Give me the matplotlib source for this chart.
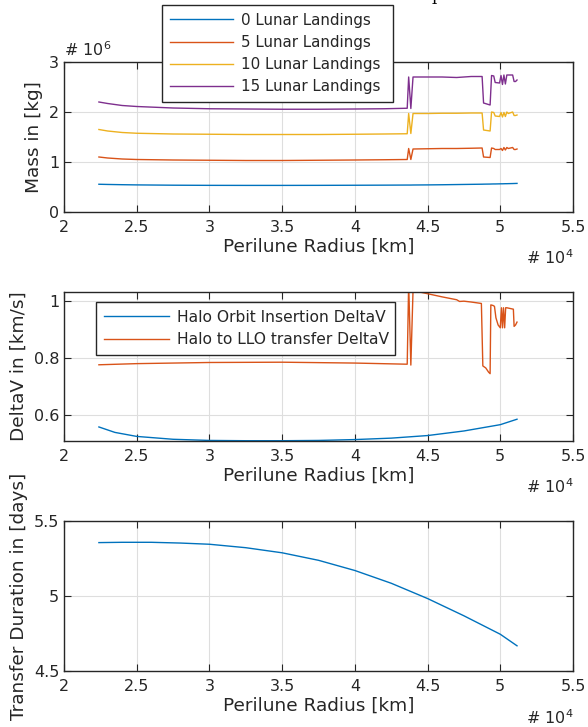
import matplotlib
matplotlib.use("Agg")
import matplotlib.pyplot as plt
from matplotlib.ticker import FuncFormatter

#%% data (x in units of 1e4 km)
x_mass = [2.24, 2.3, 2.4, 2.5, 2.75, 3.0, 3.25, 3.5, 3.75, 4.0, 4.2, 4.36, 4.37, 4.385,
          4.40, 4.5, 4.6, 4.7, 4.8, 4.875, 4.885, 4.93, 4.94, 4.955, 4.965, 4.995,
          5.005, 5.015, 5.025, 5.035, 5.045, 5.055, 5.085, 5.095, 5.105, 5.115]
mass_0 = [0.555, 0.551, 0.546, 0.542, 0.536, 0.533, 0.532, 0.532, 0.533, 0.535, 0.537, 0.539,
          0.539, 0.539, 0.540, 0.542, 0.545, 0.549, 0.553, 0.556, 0.557, 0.559, 0.560, 0.561,
          0.561, 0.563, 0.564, 0.564, 0.565, 0.566, 0.566, 0.567, 0.569, 0.570, 0.571, 0.572]
mass_5 = [1.10, 1.08, 1.06, 1.05, 1.04, 1.035, 1.03, 1.03, 1.035, 1.04, 1.045, 1.05,
          1.27, 1.05, 1.26, 1.265, 1.27, 1.27, 1.275, 1.28, 1.10, 1.09, 1.28, 1.27,
          1.25, 1.25, 1.27, 1.23, 1.29, 1.24, 1.29, 1.27, 1.29, 1.25, 1.25, 1.26]
mass_10 = [1.65, 1.62, 1.59, 1.575, 1.56, 1.555, 1.55, 1.55, 1.55, 1.555, 1.56, 1.565,
           1.97, 1.57, 1.97, 1.97, 1.975, 1.975, 1.98, 1.98, 1.64, 1.62, 2.0, 1.99,
           1.92, 1.91, 1.99, 1.90, 1.99, 1.91, 2.0, 1.97, 2.0, 1.93, 1.93, 1.94]
mass_15 = [2.20, 2.17, 2.13, 2.11, 2.08, 2.065, 2.06, 2.055, 2.055, 2.06, 2.065, 2.075,
           2.70, 2.07, 2.70, 2.70, 2.70, 2.69, 2.71, 2.71, 2.18, 2.14, 2.73, 2.72,
           2.59, 2.58, 2.73, 2.55, 2.74, 2.56, 2.74, 2.74, 2.74, 2.61, 2.61, 2.64]

x_hoi = [2.24, 2.35, 2.5, 2.75, 3.0, 3.25, 3.5, 3.75, 4.0, 4.25, 4.5, 4.75, 5.0, 5.115]
dv_hoi = [0.559, 0.540, 0.526, 0.516, 0.512, 0.511, 0.511, 0.512, 0.515, 0.520, 0.529,
          0.545, 0.567, 0.586]

x_llo = [2.24, 2.5, 3.0, 3.5, 4.0, 4.36, 4.37, 4.385, 4.40, 4.5, 4.6, 4.65, 4.7, 4.72,
         4.75, 4.8, 4.87, 4.88, 4.9, 4.92, 4.93, 4.935, 4.95, 4.96, 4.97, 4.985, 5.0,
         5.008, 5.015, 5.022, 5.03, 5.037, 5.045, 5.09, 5.095, 5.105, 5.115]
dv_llo = [0.776, 0.780, 0.784, 0.785, 0.782, 0.778, 1.06, 0.775, 1.035, 1.024, 1.013,
          1.008, 1.003, 0.997, 0.998, 0.995, 0.990, 0.772, 0.765, 0.750, 0.745, 0.985,
          0.983, 0.980, 0.940, 0.915, 0.905, 0.975, 0.905, 0.975, 0.905, 0.975, 0.975,
          0.970, 0.910, 0.915, 0.925]

x_td = [2.24, 2.4, 2.6, 2.8, 3.0, 3.25, 3.5, 3.75, 4.0, 4.25, 4.5, 4.75, 5.0, 5.115]
t_dur = [5.356, 5.358, 5.358, 5.353, 5.345, 5.322, 5.288, 5.238, 5.170, 5.085, 4.983,
         4.868, 4.745, 4.668]

mass_labels = ['0 Lunar Landings', '5 Lunar Landings', '10 Lunar Landings', '15 Lunar Landings']
dv_labels = ['Halo Orbit Insertion DeltaV', 'Halo to LLO transfer DeltaV']
x_ticks = [2, 2.5, 3, 3.5, 4, 4.5, 5, 5.5]

#%% style
txt = '#262626'
cols = ['#0072BD', '#D95319', '#EDB120', '#7E2F8E']
plt.rcParams['font.family'] = ['DejaVu Sans']
plt.rcParams['text.color'] = txt
plt.rcParams['axes.labelcolor'] = txt
plt.rcParams['xtick.color'] = txt
plt.rcParams['ytick.color'] = txt

fig = plt.figure(figsize=(5.88, 7.27), dpi=100)
L, W = 64 / 588, 509 / 588


def setup(ax, ylim, yticks, ylabel):
    ax.set_xlim(2, 5.5)
    ax.set_ylim(*ylim)
    ax.set_xticks(x_ticks)
    ax.set_yticks(yticks)
    fmt = FuncFormatter(lambda v, p: '%g' % v)
    ax.xaxis.set_major_formatter(fmt)
    ax.yaxis.set_major_formatter(fmt)
    ax.tick_params(direction='in', top=True, right=True, length=5, width=0.8,
                   labelsize=11.5, colors=txt)
    ax.tick_params(axis='x', pad=6)
    ax.tick_params(axis='y', pad=3.5)
    ax.grid(True, color='#dedede', lw=0.8)
    ax.set_axisbelow(True)
    for s in ax.spines.values():
        s.set_color(txt)
        s.set_linewidth(1.0)
    ax.set_xlabel('Perilune Radius [km]', fontsize=13.3, labelpad=2)
    ax.set_ylabel(ylabel, fontsize=13.3, labelpad=4.5)
    ax.text(1.0, -0.35, r'# 10$^{4}$', transform=ax.transAxes, ha='right',
            va='baseline', fontsize=11.5)


def legend(ax, handles, labels, x0, top, w, fs):
    lg = ax.legend(handles, labels, loc='upper left', bbox_to_anchor=(x0, top - 1, w, 1),
                   mode='expand', borderaxespad=0, fontsize=fs, handlelength=4.2,
                   handletextpad=0.5, borderpad=0.5, labelspacing=0.48, fancybox=False,
                   framealpha=1, edgecolor=txt)
    lg.get_frame().set_linewidth(1.0)
    return lg


#%% mass
ax1 = fig.add_axes([L, 1 - 212 / 727, W, 150 / 727])
hs = []
for ys, c in zip([mass_0, mass_5, mass_10, mass_15], cols):
    h, = ax1.plot(x_mass, ys, color=c, lw=1.0)
    hs.append(h)
setup(ax1, (0, 3), [0, 1, 2, 3], 'Mass in [kg]')
ax1.text(0.0, 1.02, r'# 10$^{6}$', transform=ax1.transAxes, ha='left', va='bottom',
         fontsize=11.5)
legend(ax1, hs, mass_labels, 98 / 509, 1.38, 231 / 509, 10.9)

#%% delta v
ax2 = fig.add_axes([L, 1 - 441 / 727, W, 149 / 727])
h1, = ax2.plot(x_hoi, dv_hoi, color=cols[0], lw=1.0)
h2, = ax2.plot(x_llo, dv_llo, color=cols[1], lw=1.0)
setup(ax2, (0.51, 1.03), [0.6, 0.8, 1.0], 'DeltaV in [km/s]')
legend(ax2, [h1, h2], dv_labels, 32 / 509, 0.933, 299 / 509, 11.2)

#%% transfer duration
ax3 = fig.add_axes([L, 1 - 671 / 727, W, 150 / 727])
ax3.plot(x_td, t_dur, color=cols[0], lw=1.0)
setup(ax3, (4.5, 5.5), [4.5, 5, 5.5], 'Transfer Duration in [days]')

# cut-off title fragment at the top edge (only its descender shows, as in the source)
fig.text(437 / 588, 1.0, 'p', family='DejaVu Serif', fontsize=12, ha='center',
         va='baseline', color='black')

fig.savefig('out.png', dpi=100)
